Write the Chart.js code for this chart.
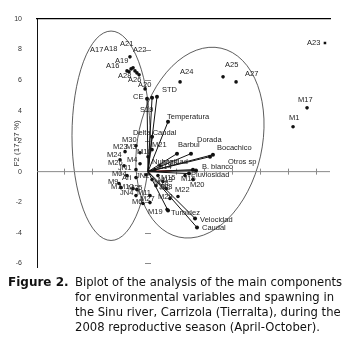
<!DOCTYPE html>
<html>
<head>
<meta charset="utf-8">
<script src="https://cdn.jsdelivr.net/npm/chart.js@4.4.0/dist/chart.umd.min.js"></script>
<style>
  body { margin: 0; background: #fff; width: 347px; height: 344px; overflow: hidden; position: relative; }
  #biplot { position: absolute; left: 0; top: 0; }
  .cap { position: absolute; left: 0; top: 275px; font-family: 'DejaVu Sans', sans-serif; font-size: 11.6px; line-height: 15px; color: #111; }
  .cap .fig { position: absolute; left: 8px; top: 0; font-weight: bold; font-size: 12px; white-space: nowrap; }
  .cap .txt { position: absolute; left: 75px; top: 0; white-space: nowrap; }
</style>
</head>
<body>
<canvas id="biplot" width="347" height="279"></canvas>
<div class="cap">
  <div class="fig">Figure 2.</div>
  <div class="txt">Biplot of the analysis of the main components<br>for environmental variables and spawning in<br>the Sinu river, Carrizola (Tierralta), during the<br>2008 reproductive season (April-October).</div>
</div>
<script>
// environmental variables / species (vectors from origin)
const vecNames = ['CE', 'S19', 'STD', 'Temperatura', 'Delta Caudal', 'Barbul', 'Dorada', 'Bocachico', 'Nubosidad',
                  'B. blanco', 'Otros sp', 'Pluviosidad', 'Turbidez', 'Velocidad', 'Caudal', ''];
const vecX = [-0.07, 0.29, 0.64, 1.43, 0.29, 3.07, 4.43, 4.64, 2.07, 3.21, 3.43, 2.93, 1.43, 3.36, 3.50, 1.71];
const vecY = [4.77, 4.84, 4.90, 3.27, 2.29, 1.18, 0.98, 1.11, 1.18, 0.13, 0.07, -0.13, -2.55, -3.07, -3.66, 0.07];

// samples
const smpNames = ['A23', 'M17', 'M1', 'A24', 'A25', 'A27',
                  'A21', 'A17', 'A18', 'A22', 'A19', 'A16', 'A28', 'A26', 'A20',
                  'M30', 'M23', 'M3', 'M10', 'M21', 'M24', 'M26', 'M4', 'JN1', 'M04', 'Ari', 'M9', 'M7', 'M12', 'M25',
                  'JN4', 'M11', 'M6', 'M27', 'M19', 'M22', 'M28', 'M20', 'M16', 'M13', 'M2',
                  'M14', 'M15', 'M18', 'M29', 'JN2', 'JN3'];
const smpX = [12.64, 11.36, 10.36, 2.29, 5.36, 6.29,
              -1.29, -1.50, -1.21, -0.93, -1.07, -1.36, -0.79, -0.64, -0.21,
              -0.86, -1.64, -0.57, 0.00, 0.29, -2.00, -1.71, -0.57, -0.86, -1.50, -0.86, -2.07, -1.93, -1.07, -0.79,
              -0.86, 0.14, -0.36, 0.14, 1.36, 2.14, 1.57, 3.21, 2.64, 1.07, 1.29,
              0.50, 0.71, 0.29, 0.86, -0.14, 0.57];
const smpY = [8.43, 4.18, 2.94, 5.88, 6.21, 5.88,
              7.52, 6.60, 6.73, 6.60, 6.80, 6.54, 6.47, 6.34, 5.42,
              1.70, 1.31, 1.24, 0.98, 1.44, 0.78, 0.39, 0.52, 0.13, -0.26, -0.39, -0.78, -1.05, -1.11, -1.18,
              -1.57, -1.57, -2.09, -2.03, -2.48, -1.63, -1.76, -0.52, -0.26, -0.65, -1.11,
              0.13, -0.26, -0.52, 0.39, -0.20, -0.92];

const xTicks = [-6, -4, -2, 0, 2, 4, 6, 8, 10, 12];
const yTicks = [-6, -4, -2, 0, 2, 4, 6, 8, 10];

// label offsets in px (left edge, vertical middle)
const vecLab = [[-14, -2], [-12, 12], [5, -7], [-1, -5], [-19, -4], [-13, -9], [-13, -17], [4, -7], [-25, 8],
                [9, -3], [32, -9], [2, 1], [3, 2], [5, 1], [5, 0], [0, 0]];
const smpLab = [[-18, 0], [-9, -8], [-4, -9], [0, -10], [2, -12], [9, -8],
                [-10, -13], [-37, -21], [-27, -20], [-2, -21], [-18, -7], [-23, -6], [-19, 3], [-11, 5], [-7, -4],
                [-14, -6], [-12, -5], [-14, -6], [-11, -5], [0, -5], [-13, -5], [-16, -3], [-13, -4], [-18, -2], [-15, -2],
                [-14, 0], [-11, -2], [-10, -1], [-14, -2], [-9, -2],
                [-16, -3], [-13, -3], [-11, -2], [-10, -4], [-19, 2], [-3, -7], [-12, -2], [-3, 5], [-4, 3], [-5, -2], [-6, -1],
                [2, -3], [3, 2], [2, 3], [3, -3], [-10, 1], [3, 1]];

// ellipses: centre and half axes in data units, tilt in radians
const ellipses = [
  { cx: -2.64, cy: 2.35, rx: 2.79, ry: 6.86, rot: 0 },
  { cx: 3.71, cy: 1.90, rx: 4.43, ry: 6.34, rot: 0.22 }
];

const vecSets = vecNames.map((n, i) => ({
  label: n,
  data: [{ x: 0, y: 0 }, { x: vecX[i], y: vecY[i] }],
  showLine: true,
  borderColor: n === '' ? '#e0201b' : '#111',
  borderWidth: n === '' ? 1.3 : 1,
  pointRadius: [0, n === '' ? 0 : 2],
  pointBackgroundColor: '#111',
  pointBorderWidth: 0
}));

const smpSet = {
  label: 'samples',
  data: smpNames.map((n, i) => ({ x: smpX[i], y: smpY[i] })),
  pointRadius: 1.8,
  pointStyle: smpNames.map(n => n === 'A23' ? 'rect' : 'circle'),
  pointBackgroundColor: '#111',
  pointBorderWidth: 0,
  showLine: false
};

const frame = {
  id: 'frame',
  beforeDatasetsDraw(chart) {
    const { ctx, chartArea: a, scales: { x, y } } = chart;
    ctx.save();
    // ellipses
    ctx.strokeStyle = '#333';
    ctx.lineWidth = 0.8;
    ellipses.forEach(e => {
      const px = x.getPixelForValue(e.cx), py = y.getPixelForValue(e.cy);
      const rx = Math.abs(x.getPixelForValue(e.cx + e.rx) - px);
      const ry = Math.abs(y.getPixelForValue(e.cy + e.ry) - py);
      ctx.beginPath();
      ctx.ellipse(px, py, rx, ry, e.rot, 0, Math.PI * 2);
      ctx.stroke();
    });
    // zero line with ticks
    const y0 = y.getPixelForValue(0), x0 = x.getPixelForValue(0);
    ctx.strokeStyle = '#8a8a8a';
    ctx.lineWidth = 1;
    ctx.beginPath();
    ctx.moveTo(a.left, y0); ctx.lineTo(a.right, y0);
    xTicks.forEach(v => {
      const p = Math.round(x.getPixelForValue(v)) + 0.5;
      ctx.moveTo(p, y0 - 3); ctx.lineTo(p, y0 + 3);
    });
    yTicks.forEach(v => {
      if (v === 0 || v === 10) return;
      const p = Math.round(y.getPixelForValue(v)) + 0.5;
      ctx.moveTo(x0 - 3, p); ctx.lineTo(x0 + 3, p);
    });
    ctx.stroke();
    ctx.restore();
  },
  afterDatasetsDraw(chart) {
    const { ctx, scales: { x, y } } = chart;
    ctx.save();
    ctx.font = "7.5px 'Liberation Sans'";
    ctx.fillStyle = '#222';
    ctx.textBaseline = 'middle';
    vecNames.forEach((n, i) => {
      if (!n) return;
      ctx.fillText(n, x.getPixelForValue(vecX[i]) + vecLab[i][0], y.getPixelForValue(vecY[i]) + vecLab[i][1]);
    });
    smpNames.forEach((n, i) => {
      ctx.fillText(n, x.getPixelForValue(smpX[i]) + smpLab[i][0], y.getPixelForValue(smpY[i]) + smpLab[i][1]);
    });
    ctx.restore();
  }
};

new Chart(document.getElementById('biplot'), {
  type: 'scatter',
  data: { datasets: [...vecSets, smpSet] },
  options: {
    responsive: false,
    animation: false,
    layout: { padding: { top: 19, right: 17, bottom: 3, left: 0 } },
    plugins: { legend: { display: false }, tooltip: { enabled: false } },
    scales: {
      x: {
        type: 'linear', min: -7.93, max: 13, position: 'top',
        afterFit: s => { s.height = 0; },
        grid: { display: false, drawTicks: false },
        ticks: { display: false },
        border: { color: '#000', width: 1.2 }
      },
      y: {
        type: 'linear', min: -6.3, max: 10,
        afterBuildTicks: s => { s.ticks = yTicks.map(v => ({ value: v })); },
        afterFit: s => { s.width = 37; },
        grid: { display: false },
        border: { color: '#111', width: 1 },
        ticks: { font: { size: 7, family: 'Liberation Sans' }, color: '#333', padding: 7 },
        title: { display: true, text: 'F2 (17.57 %)', font: { size: 8, family: 'Liberation Sans' }, color: '#333', padding: { top: 12 } }
      }
    }
  },
  plugins: [frame]
});
</script>
</body>
</html>
